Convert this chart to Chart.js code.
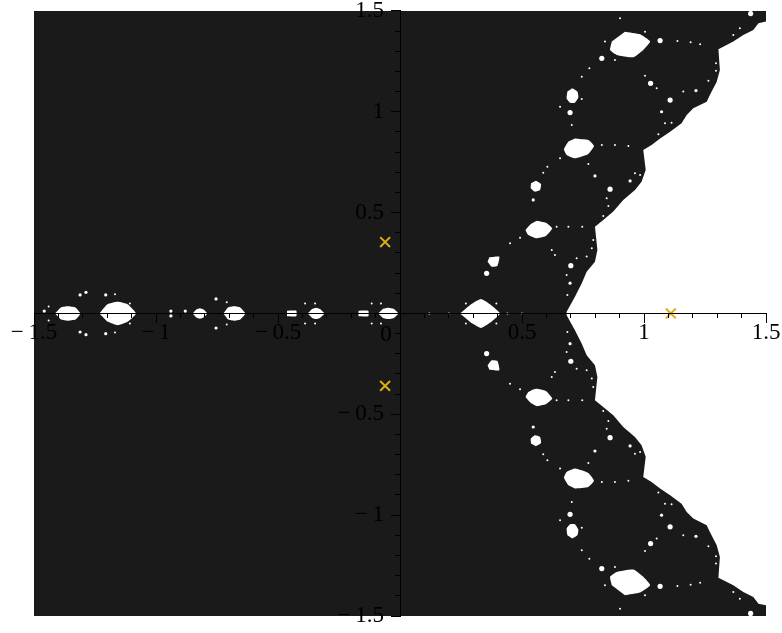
<!DOCTYPE html>
<html>
<head>
<meta charset="utf-8">
<title>Fractal set</title>
<script src="https://cdn.jsdelivr.net/npm/chart.js@4"></script>
<style>
  html, body { margin: 0; background: #fff; }
  #plot { display: block; filter: blur(0.7px); }
</style>
</head>
<body>
<canvas id="plot" width="782" height="633"></canvas>
<script>
/* Filled set with white holes as [x, y] pairs */

const BLACK_FILL = '#1a1a1a';
const MARK_COLOR = '#dcae14';
const MINUS = '\u2212\u2009';
const Y_LABEL_GAP = '\u2002\u2009';

const outline = [
  [-1.5, 1.5], [1.5, 1.5], [1.5, 1.447], [1.469, 1.439], [1.448, 1.406], [1.407, 1.381], [1.366, 1.348],
  [1.305, 1.31], [1.311, 1.207], [1.298, 1.149], [1.27, 1.083], [1.257, 1.05], [1.202, 1.017], [1.175, 0.984],
  [1.154, 0.943], [1.107, 0.901], [1.066, 0.868], [1.031, 0.835], [0.997, 0.811], [1.007, 0.711], [0.99, 0.653],
  [0.963, 0.612], [0.915, 0.563], [0.874, 0.505], [0.833, 0.464], [0.799, 0.43], [0.809, 0.315], [0.799, 0.257],
  [0.765, 0.207], [0.745, 0.15], [0.717, 0.083], [0.683, 0.009],
  [0.683, -0.009], [0.717, -0.083], [0.745, -0.15], [0.765, -0.207], [0.799, -0.257], [0.809, -0.315], [0.799, -0.43],
  [0.833, -0.464], [0.874, -0.505], [0.915, -0.563], [0.963, -0.612], [0.99, -0.653], [1.007, -0.711], [0.997, -0.811],
  [1.031, -0.835], [1.066, -0.868], [1.107, -0.901], [1.154, -0.943], [1.175, -0.984], [1.202, -1.017], [1.257, -1.05],
  [1.27, -1.083], [1.298, -1.149], [1.311, -1.207], [1.305, -1.31], [1.366, -1.348], [1.407, -1.381], [1.448, -1.406],
  [1.469, -1.439], [1.5, -1.447], [1.5, -1.5], [-1.5, -1.5]
];

const holeTop = [[0.922, 1.397], [0.984, 1.384], [1.025, 1.348], [0.997, 1.306], [0.956, 1.27], [0.888, 1.282], [0.861, 1.306], [0.868, 1.348]];
const holeOval = [[0.706, 1.116], [0.727, 1.1], [0.731, 1.072], [0.717, 1.045], [0.697, 1.045], [0.683, 1.066], [0.686, 1.1]];
const holeUpperMid = [[0.717, 0.868], [0.772, 0.86], [0.795, 0.83], [0.772, 0.791], [0.717, 0.769], [0.683, 0.786], [0.672, 0.814], [0.69, 0.852]];
const holeSmall = [[0.557, 0.658], [0.578, 0.642], [0.574, 0.612], [0.553, 0.604], [0.536, 0.621], [0.537, 0.645]];
const holeLow = [[0.56, 0.46], [0.598, 0.45], [0.624, 0.422], [0.598, 0.384], [0.557, 0.373], [0.526, 0.389], [0.515, 0.414], [0.536, 0.444]];
const holeTiny = [[0.366, 0.279], [0.407, 0.282], [0.399, 0.235], [0.376, 0.232], [0.359, 0.257]];
const holeBottom = [[0.922, -1.397], [0.984, -1.384], [1.025, -1.348], [0.997, -1.306], [0.956, -1.27], [0.888, -1.282], [0.861, -1.306], [0.868, -1.348]];
const holeOvalB = [[0.706, -1.116], [0.727, -1.1], [0.731, -1.072], [0.717, -1.045], [0.697, -1.045], [0.683, -1.066], [0.686, -1.1]];
const holeLowerMid = [[0.717, -0.868], [0.772, -0.86], [0.795, -0.83], [0.772, -0.791], [0.717, -0.769], [0.683, -0.786], [0.672, -0.814], [0.69, -0.852]];
const holeSmallB = [[0.557, -0.658], [0.578, -0.642], [0.574, -0.612], [0.553, -0.604], [0.536, -0.621], [0.537, -0.645]];
const holeLowB = [[0.56, -0.46], [0.598, -0.45], [0.624, -0.422], [0.598, -0.384], [0.557, -0.373], [0.526, -0.389], [0.515, -0.414], [0.536, -0.444]];
const holeTinyB = [[0.366, -0.279], [0.407, -0.282], [0.399, -0.235], [0.376, -0.232], [0.359, -0.257]];
const holeAxisRight = [[0.246, 0], [0.29, 0.045], [0.332, 0.072], [0.37, 0.045], [0.41, 0], [0.37, -0.045], [0.332, -0.072], [0.29, -0.045]];
const holeAxis1 = [[-1.414, 0], [-1.39, 0.03], [-1.362, 0.036], [-1.33, 0.03], [-1.31, 0], [-1.33, -0.03], [-1.362, -0.036], [-1.39, -0.03]];
const holeAxis2 = [[-1.232, 0], [-1.2, 0.045], [-1.157, 0.058], [-1.115, 0.045], [-1.082, 0], [-1.115, -0.04], [-1.157, -0.058], [-1.2, -0.04]];
const holeAxis3 = [[-0.85, 0], [-0.835, 0.02], [-0.82, 0.026], [-0.805, 0.02], [-0.79, 0], [-0.805, -0.02], [-0.82, -0.026], [-0.835, -0.02]];
const holeAxis4 = [[-0.724, 0], [-0.705, 0.03], [-0.679, 0.036], [-0.655, 0.03], [-0.634, 0], [-0.655, -0.03], [-0.679, -0.036], [-0.705, -0.03]];
const holeAxis5 = [[-0.378, 0], [-0.36, 0.022], [-0.344, 0.028], [-0.328, 0.022], [-0.31, 0], [-0.328, -0.022], [-0.344, -0.028], [-0.36, -0.022]];
const holeAxis6 = [[-0.089, 0], [-0.07, 0.022], [-0.048, 0.028], [-0.025, 0.022], [-0.007, 0], [-0.025, -0.022], [-0.048, -0.028], [-0.07, -0.022]];
const holeAxis7 = [[-0.463, 0.014], [-0.425, 0.014], [-0.425, -0.014], [-0.463, -0.014]];
const holeAxis8 = [[-0.17, 0.014], [-0.13, 0.014], [-0.13, -0.014], [-0.17, -0.014]];

const mediumDots = [
  [1.107, 1.058], [0.697, 0.996], [0.861, 0.616], [0.7, 0.237], [1.027, 1.141], [0.355, 0.199], [0.827, 1.265], [1.066, 1.353],
  [1.107, -1.058], [0.697, -0.996], [0.861, -0.616], [0.7, -0.237], [1.027, -1.141], [0.355, -0.199], [0.827, -1.265], [1.066, -1.353],
  [1.437, 1.487], [1.437, -1.487]
];
const smallDots = [
  [0.546, 0.563], [1.213, 1.105], [1.072, 1.0], [0.799, 0.682], [0.943, 0.657], [0.697, 0.15],
  [0.546, -0.563], [1.213, -1.105], [1.072, -1.0], [0.799, -0.682], [0.943, -0.657], [0.697, -0.15],
  [-0.939, 0.012], [-0.939, -0.012], [-0.88, 0.012], [-1.458, 0.012], [-1.287, 0.105], [-1.311, 0.092], [-1.287, -0.105], [-1.311, -0.092],
  [-1.206, 0.092], [-1.206, -0.1], [-0.754, 0.072], [-0.754, -0.072]
];
const tinyDots = [
  [1.137, 1.351], [1.191, 1.345], [1.23, 1.335], [0.776, 1.216], [0.745, 1.174], [1.004, 1.178], [1.052, 1.116], [1.264, 1.154],
  [1.295, 1.24], [1.295, 1.204], [1.161, 1.1], [1.086, 0.943], [1.113, 0.946], [1.059, 0.888], [0.827, 0.835], [0.881, 0.835],
  [0.936, 0.83], [0.656, 0.769], [0.604, 0.728], [0.587, 0.698], [0.772, 0.741], [0.656, 1.025], [0.745, 1.063], [0.704, 0.935],
  [0.984, 0.687], [0.963, 0.695], [0.847, 0.571], [0.854, 0.533], [0.833, 0.483], [0.642, 0.43], [0.69, 0.43], [0.747, 0.43],
  [0.492, 0.376], [0.451, 0.348], [0.622, 0.315], [0.635, 0.29], [0.724, 0.274], [0.765, 0.282], [0.786, 0.323], [0.792, 0.364],
  [0.683, 0.191], [0.686, 0.092], [1.393, 1.414], [1.366, 1.381], [0.902, 1.464], [1.004, 1.397], [0.84, 1.348], [0.881, 1.257],
  [1.137, -1.351], [1.191, -1.345], [1.23, -1.335], [0.776, -1.216], [0.745, -1.174], [1.004, -1.178], [1.052, -1.116], [1.264, -1.154],
  [1.295, -1.24], [1.295, -1.204], [1.161, -1.1], [1.086, -0.943], [1.113, -0.946], [1.059, -0.888], [0.827, -0.835], [0.881, -0.835],
  [0.936, -0.83], [0.656, -0.769], [0.604, -0.728], [0.587, -0.698], [0.772, -0.741], [0.656, -1.025], [0.745, -1.063], [0.704, -0.935],
  [0.984, -0.687], [0.963, -0.695], [0.847, -0.571], [0.854, -0.533], [0.833, -0.483], [0.642, -0.43], [0.69, -0.43], [0.747, -0.43],
  [0.492, -0.376], [0.451, -0.348], [0.622, -0.315], [0.635, -0.29], [0.724, -0.274], [0.765, -0.282], [0.786, -0.323], [0.792, -0.364],
  [0.683, -0.191], [0.686, -0.092], [1.393, -1.414], [1.366, -1.381], [0.902, -1.464], [1.004, -1.397], [0.84, -1.348], [0.881, -1.257],
  [-1.168, 0.095], [-1.107, 0.05], [-1.168, -0.095], [-1.107, -0.05], [-0.71, 0.055], [-0.71, -0.055], [-0.389, 0.05], [-0.348, 0.05],
  [-0.389, -0.05], [-0.348, -0.05], [-0.116, 0.05], [-0.078, 0.05], [-0.116, -0.05], [-0.078, -0.05], [-1.44, 0.035], [-1.44, -0.035],
  [0.27, 0.05], [0.27, -0.05], [0.395, 0.05], [0.395, -0.05], [0.44, 0], [0.5, 0], [0.12, 0], [0.2, 0]
];
const rootPoints = [[1.11, 0], [-0.061, 0.354], [-0.061, -0.359]];

const whiteHoles = [
  holeTop, holeOval, holeUpperMid, holeSmall, holeLow, holeTiny,
  holeBottom, holeOvalB, holeLowerMid, holeSmallB, holeLowB, holeTinyB,
  holeAxisRight, holeAxis1, holeAxis2, holeAxis3, holeAxis4, holeAxis5, holeAxis6, holeAxis7, holeAxis8
];

function toPoints(pairs) {
  return pairs.map(function(p) { return { x: p[0], y: p[1] }; });
}

function polygonDataset(pairs, color, order) {
  return {
    data: toPoints(pairs), showLine: true, fill: 'shape', backgroundColor: color,
    borderWidth: 0, pointRadius: 0, order: order
  };
}

function dotDataset(pairs, radius) {
  return {
    data: toPoints(pairs), backgroundColor: '#fff', borderWidth: 0,
    pointRadius: radius, order: 2
  };
}

function tickLabel(value) {
  var v = Math.round(value * 10) / 10;
  if (v === 0 || Math.abs(v * 2 - Math.round(v * 2)) > 0.001) return '';
  return v < 0 ? MINUS + Math.abs(v) : String(v);
}

function yTickLabel(value) {
  var text = tickLabel(value);
  return text ? text + Y_LABEL_GAP : '';
}

function axisOptions(step, length, showLabels, extra, labelFn) {
  return Object.assign({
    type: 'linear', min: -1.5, max: 1.5, z: 1,
    border: { display: showLabels, color: '#000', width: 1, z: 1 },
    grid: { drawOnChartArea: false, drawTicks: true, tickLength: length, tickColor: '#000', z: 1 },
    ticks: {
      stepSize: step, autoSkip: false, maxRotation: 0, display: showLabels, padding: 0, z: 1,
      color: '#000', font: { family: '"Liberation Serif"', size: 23, lineHeight: 0.95 }, callback: labelFn || tickLabel
    }
  }, extra);
}

/* the x axis puts its 0 label left of the vertical axis */
const zeroLabel = {
  id: 'zeroLabel',
  afterDraw: function(chart) {
    var ctx = chart.ctx;
    ctx.save();
    ctx.font = '23px "Liberation Serif"';
    ctx.fillStyle = '#000';
    ctx.textAlign = 'center';
    ctx.textBaseline = 'middle';
    ctx.fillText('0', chart.scales.x.getPixelForValue(0) - 14, chart.scales.y.getPixelForValue(0) + 21);
    ctx.restore();
  }
};

const datasets = [polygonDataset(outline, BLACK_FILL, 4)]
  .concat(whiteHoles.map(function(h) {
    return Object.assign(polygonDataset(h, '#fff', 3), { tension: 0.15 });
  }))
  .concat([dotDataset(mediumDots, 2.6), dotDataset(smallDots, 1.6), dotDataset(tinyDots, 1)])
  .concat([{
    data: toPoints(rootPoints), pointStyle: 'crossRot', pointRadius: 7, pointBorderWidth: 2,
    borderColor: MARK_COLOR, pointBorderColor: MARK_COLOR, order: 1
  }]);

new Chart(document.getElementById('plot').getContext('2d'), {
  type: 'scatter',
  data: { datasets: datasets },
  plugins: [zeroLabel],
  options: {
    responsive: false,
    animation: false,
    layout: { autoPadding: false, padding: { left: 34, right: 16, top: 5, bottom: 17 } },
    scales: {
      x: axisOptions(0.5, 9, true, { position: { y: 0 } }),
      x2: axisOptions(0.1, 5, false, { axis: 'x', position: { y: 0 } }),
      y: axisOptions(0.5, 9, true, { position: { x: 0 } }, yTickLabel),
      y2: axisOptions(0.1, 5, false, { axis: 'y', position: { x: 0 } })
    },
    plugins: { legend: { display: false }, tooltip: { enabled: false } }
  }
});
</script>
</body>
</html>
